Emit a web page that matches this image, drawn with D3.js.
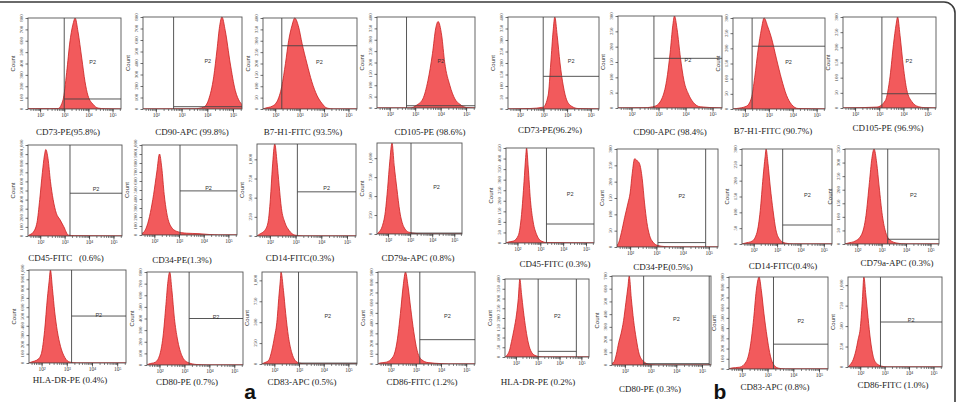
<!DOCTYPE html>
<html><head><meta charset="utf-8">
<script src="https://cdn.jsdelivr.net/npm/d3@7"></script>
<style>body{margin:0;background:#fff}svg{display:block}</style>
</head><body>
<svg id="c" width="959" height="402"></svg>
<script>
// ---------- DATA ----------
const titles = [
 "CD73-PE(95.8%)","CD90-APC (99.8%)","B7-H1-FITC (93.5%)","CD105-PE (98.6%)",
 "CD73-PE(96.2%)","CD90-APC (98.4%)","B7-H1-FITC (90.7%)","CD105-PE (96.9%)",
 "CD45-FITC   (0.6%)","CD34-PE(1.3%)","CD14-FITC(0.3%)","CD79a-APC (0.8%)",
 "CD45-FITC (0.3%)","CD34-PE(0.5%)","CD14-FITC(0.4%)","CD79a-APC (0.3%)",
 "HLA-DR-PE (0.4%)","CD80-PE (0.7%)","CD83-APC (0.5%)","CD86-FITC (1.2%)",
 "HLA-DR-PE (0.2%)","CD80-PE (0.3%)","CD83-APC (0.8%)","CD86-FITC (1.0%)"
];
const panelLetters = ["a","b"];
const xTickExps = [2,3,4,5];
const yMax  = [800,800,400,400, 400,300,300,300, 1000,1000,1200,1200, 450,300,300,350, 1000,800,1100,900, 400,700,900,1100];
const yStep = [100,100,50,50, 50,50,50,50, 100,100,250,250, 50,50,50,50, 100,100,250,100, 50,100,100,250];
const gateX  = [3.0,2.69,2.27,2.66, 2.99,2.83,2.3,3.11, 3.22,3.04,3.07,3.04, 3.27,3.06,3.24,3.25, 3.19,3.19,2.98,3.16, 3.02,2.73,3.23,2.83];
const gateXR = [null,null,null,null, null,null,null,null, null,null,null,null, null,4.88,null,null, null,null,null,null, 4.77,5.28,null,null];
const gateY  = [88,20,278,10, 142,162,207,47, 470,490,576,12, 90,13.5,60,17.5, 505,400,11,238, 29,10.5,243,550];

// histograms: [log10(intensity), count]
const hCD73a = [[1.5,2],[1.8,3],[2.4,3],[2.74,4],[2.95,80],[3.1,320],[3.24,600],[3.38,760],[3.45,800],[3.57,680],[3.73,440],[3.86,240],[3.98,120],[4.2,40],[4.4,8],[4.7,2],[5.35,0]];
const hCD90a = [[1.5,0],[3.5,2],[3.86,16],[4.05,80],[4.25,280],[4.38,520],[4.48,720],[4.57,800],[4.7,680],[4.89,400],[5.09,160],[5.26,64],[5.35,40]];
const hB7a   = [[1.5,0],[1.6,4],[1.87,12],[2.07,32],[2.27,100],[2.42,200],[2.55,300],[2.69,368],[2.8,400],[2.96,360],[3.1,288],[3.3,200],[3.5,120],[3.71,60],[3.92,24],[4.12,4],[4.4,0],[5.35,0]];
const hCD105a= [[1.5,0],[2.8,0],[3.05,12],[3.3,40],[3.5,120],[3.68,240],[3.81,352],[3.9,380],[4.04,320],[4.16,200],[4.36,100],[4.56,40],[4.76,16],[5.02,2],[5.35,0]];
const hCD73b = [[1.5,0],[2.42,2],[2.99,8],[3.2,60],[3.31,200],[3.41,340],[3.48,400],[3.58,320],[3.7,200],[3.84,100],[3.98,40],[4.19,12],[4.47,2],[5.35,0]];
const hCD90b = [[1.5,0],[2.5,1],[2.87,6],[3.12,30],[3.3,90],[3.43,180],[3.53,270],[3.59,300],[3.69,255],[3.81,165],[3.94,90],[4.11,45],[4.29,18],[4.54,4],[5.35,0]];
const hB7b   = [[1.5,0],[1.64,1.5],[2.06,9],[2.27,36],[2.41,105],[2.55,195],[2.69,264],[2.8,300],[2.96,270],[3.11,234],[3.32,165],[3.53,99],[3.74,45],[3.95,15],[4.23,1.5],[5.35,0]];
const hCD105b= [[1.5,0],[2.9,3],[3.25,24],[3.45,105],[3.59,210],[3.7,276],[3.76,300],[3.86,240],[4.0,135],[4.14,60],[4.35,21],[4.62,4.5],[4.9,1],[5.35,0]];
const hCD45a = [[1.5,0],[1.55,10],[1.71,40],[1.87,150],[1.98,400],[2.09,700],[2.17,880],[2.23,950],[2.32,850],[2.42,600],[2.53,400],[2.66,250],[2.81,180],[2.97,100],[3.15,10],[3.4,3],[5.35,0]];
const hCD34a = [[1.5,20],[1.57,30],[1.7,100],[1.84,250],[1.97,450],[2.1,700],[2.21,900],[2.3,750],[2.4,450],[2.5,250],[2.66,100],[2.91,40],[3.31,20],[3.81,15],[4.25,5],[4.6,0],[5.35,0]];
const hCD14a = [[1.5,0],[1.6,24],[1.8,72],[1.93,180],[2.02,480],[2.1,900],[2.19,1200],[2.28,960],[2.36,660],[2.45,360],[2.58,180],[2.75,72],[2.97,12],[3.3,0],[5.35,0]];
const hCD79a = [[1.5,0],[1.58,24],[1.73,96],[1.88,300],[1.98,600],[2.08,960],[2.18,1200],[2.28,900],[2.4,600],[2.53,300],[2.71,96],[2.94,24],[3.31,6],[3.6,0],[5.35,0]];
const hCD45b = [[1.5,0],[1.6,4.5],[1.82,9],[2.04,36],[2.18,135],[2.29,292],[2.36,405],[2.4,450],[2.47,360],[2.57,202],[2.69,99],[2.84,40],[3.05,9],[3.27,2],[5.35,0]];
const hCD34b = [[1.5,6],[1.54,9],[1.67,45],[1.79,90],[1.92,135],[2.0,165],[2.08,225],[2.17,270],[2.27,264],[2.36,255],[2.46,210],[2.55,135],[2.64,75],[2.74,36],[2.87,15],[3.06,4.5],[3.3,1.5],[3.6,0],[5.35,0]];
const hCD14b = [[1.5,0],[1.64,3],[1.93,9],[2.14,36],[2.28,105],[2.4,210],[2.49,276],[2.53,300],[2.61,255],[2.71,180],[2.83,105],[2.95,45],[3.14,12],[3.35,3],[3.7,0],[5.35,0]];
const hCD79b = [[1.5,0],[1.63,3.5],[1.91,10.5],[2.18,35],[2.36,105],[2.5,227],[2.6,315],[2.69,350],[2.8,297],[2.9,210],[3.03,105],[3.17,42],[3.35,14],[3.62,3.5],[4.0,0],[5.35,0]];
const hHLAa  = [[1.5,0],[1.59,10],[1.86,40],[1.99,100],[2.12,350],[2.23,700],[2.3,880],[2.35,1000],[2.43,800],[2.52,550],[2.62,350],[2.75,180],[2.92,60],[3.12,10],[3.4,0],[5.35,0]];
const hCD80a = [[1.5,0],[1.57,8],[1.83,24],[2.0,80],[2.14,240],[2.26,520],[2.34,720],[2.41,800],[2.5,640],[2.6,400],[2.72,224],[2.9,80],[3.12,24],[3.5,4],[3.9,0],[5.35,0]];
const hCD83a = [[1.5,0],[1.57,11],[1.77,44],[1.9,165],[2.01,330],[2.1,495],[2.19,825],[2.24,990],[2.27,1100],[2.37,880],[2.46,605],[2.57,330],[2.71,132],[2.84,44],[3.02,11],[3.3,0],[5.35,0]];
const hCD86a = [[1.5,0],[1.57,9],[1.83,18],[2.1,72],[2.26,225],[2.39,495],[2.5,765],[2.59,900],[2.69,765],[2.8,540],[2.92,315],[3.05,135],[3.22,45],[3.49,13.5],[3.96,4.5],[4.3,0],[5.35,0]];
const hHLAb  = [[1.5,0],[1.58,8],[1.7,32],[1.8,80],[1.91,140],[2.03,220],[2.11,300],[2.18,400],[2.26,320],[2.34,240],[2.46,140],[2.57,72],[2.72,24],[2.92,6],[3.2,0],[5.35,0]];
const hCD80b = [[1.5,14],[1.57,21],[1.67,84],[1.76,175],[1.85,245],[1.95,350],[2.04,490],[2.12,616],[2.17,700],[2.25,525],[2.34,350],[2.44,210],[2.56,84],[2.73,28],[2.92,7],[3.2,0],[5.35,0]];
const hCD83b = [[1.5,0],[1.59,9],[1.92,18],[2.17,72],[2.33,225],[2.46,495],[2.56,765],[2.67,900],[2.76,765],[2.86,540],[2.98,315],[3.08,162],[3.21,54],[3.41,9],[3.7,0],[5.35,0]];
const hCD86b = [[1.5,0],[1.57,22],[1.71,88],[1.82,198],[1.91,330],[2.01,495],[2.09,825],[2.15,1100],[2.23,880],[2.32,605],[2.42,330],[2.53,132],[2.67,44],[2.87,11],[3.1,0],[5.35,0]];
const hists = [hCD73a,hCD90a,hB7a,hCD105a, hCD73b,hCD90b,hB7b,hCD105b,
               hCD45a,hCD34a,hCD14a,hCD79a, hCD45b,hCD34b,hCD14b,hCD79b,
               hHLAa,hCD80a,hCD83a,hCD86a, hHLAb,hCD80b,hCD83b,hCD86b];

// ---------- LAYOUT ----------
const boxes = [
 [28,18,93,91],[143,17,99,92],[263,18,94,91],[377,17,98,91],
 [508,17,91,92],[618,16,104,92],[733,18,92,91],[843,17,93,91],
 [28,145,94,91],[142,145,95,90],[257,144,99,92],[377,143,85,91],
 [506,148,88,95],[617,149,101,98],[742,149,90,95],[845,149,94,95],
 [29,270,97,93],[147,272,96,93],[262,272,95,92],[378,272,97,92],
 [505,279,84,78],[612,276,99,89],[729,277,99,92],[848,277,94,90]];
const titlePos = [
 [68,135],[192,135],[303,135],[430,135],[550,133],[670,135],[773,134],[888,131],
 [66,261],[182,263],[300,261],[418,261],[555,267],[663,270],[783,269],[897,266],
 [70,383],[187,385],[302,385],[422,385],[538,385],[650,392],[775,390],[893,388]];
const letterPos = [[250,399],[720,399]];

const svg = d3.select("#c");
svg.append("rect").attr("x",-20).attr("y",2).attr("width",975).attr("height",500)
  .attr("rx",11).attr("fill","#fff").attr("stroke","#3a3a3a").attr("stroke-width",1.6);

const sup = {2:"\u00b2",3:"\u00b3",4:"\u2074",5:"\u2075"};
const minor = [];
for (let e=1;e<=5;e++) for (let m=1;m<10;m++){const v=m*Math.pow(10,e); if(v>=Math.pow(10,1.5)&&v<=Math.pow(10,5.35)) minor.push(v);}
const fmt = d3.format(",");

hists.forEach((h,i)=>{
  const [bx,by,bw,bh] = boxes[i];
  const g = svg.append("g");
  const x = d3.scaleLog().domain([Math.pow(10,1.5),Math.pow(10,5.35)]).range([bx,bx+bw]);
  const y = d3.scaleLinear().domain([0,yMax[i]]).range([by+bh,by]);
  const cid = "clip"+i;
  svg.append("clipPath").attr("id",cid).append("rect").attr("x",bx).attr("y",by-1).attr("width",bw).attr("height",bh+1);
  const area = d3.area().x(d=>x(Math.pow(10,d[0]))).y0(y(0)).y1(d=>y(Math.min(d[1],yMax[i]))).curve(d3.curveMonotoneX);
  g.append("path").datum(h).attr("d",area).attr("clip-path",`url(#${cid})`)
    .attr("fill","#f25a5c").attr("stroke","#c91f1f").attr("stroke-width",0.8);
  g.append("rect").attr("x",bx).attr("y",by).attr("width",bw).attr("height",bh)
    .attr("fill","none").attr("stroke","#555").attr("stroke-width",0.9);
  // gate
  const gx = x(Math.pow(10,gateX[i]));
  const gxr = gateXR[i]==null ? bx+bw : x(Math.pow(10,gateXR[i]));
  g.append("line").attr("x1",gx).attr("x2",gx).attr("y1",by).attr("y2",by+bh).attr("stroke","#444").attr("stroke-width",0.9);
  if (gateXR[i]!=null) g.append("line").attr("x1",gxr).attr("x2",gxr).attr("y1",by).attr("y2",by+bh).attr("stroke","#444").attr("stroke-width",0.9);
  g.append("line").attr("x1",gx).attr("x2",gxr).attr("y1",y(gateY[i])).attr("y2",y(gateY[i])).attr("stroke","#444").attr("stroke-width",0.9);
  g.append("text").attr("x",(gx+gxr)/2).attr("y",by+bh*0.5).attr("text-anchor","middle")
    .attr("font-family","Liberation Sans").attr("font-size",5.5).attr("fill","#333").text("P2");
  // x axis
  const xa = g.append("g").attr("transform",`translate(0,${by+bh})`)
    .call(d3.axisBottom(x).tickValues(minor).tickSize(2).tickFormat(""));
  xa.select(".domain").remove();
  xa.selectAll("line").attr("stroke","#333").attr("stroke-width",0.6);
  const xb = g.append("g").attr("transform",`translate(0,${by+bh})`)
    .call(d3.axisBottom(x).tickValues(xTickExps.map(e=>Math.pow(10,e))).tickSize(3.5).tickPadding(1)
      .tickFormat(v=>"10"+sup[Math.round(Math.log10(v))]));
  xb.select(".domain").remove();
  xb.selectAll("line").attr("stroke","#333").attr("stroke-width",0.8);
  xb.selectAll("text").attr("font-family","Liberation Serif").attr("font-size",5.5).attr("fill","#333");
  // y axis
  const yt = d3.range(0,yMax[i]+1,yStep[i]);
  const ya = g.append("g").attr("transform",`translate(${bx},0)`)
    .call(d3.axisLeft(y).tickValues(yt).tickSize(2.5).tickFormat(""));
  ya.select(".domain").remove();
  ya.selectAll("line").attr("stroke","#333").attr("stroke-width",0.7);
  g.selectAll(null).data(yt).enter().append("text")
    .attr("transform",d=>`translate(${bx-5},${y(d)}) rotate(-90)`)
    .attr("text-anchor","middle").attr("font-family","Liberation Serif").attr("font-size",5)
    .attr("fill","#444").text(d=>fmt(d));
  g.append("text").attr("transform",`translate(${bx-13},${by+bh/2}) rotate(-90)`)
    .attr("text-anchor","middle").attr("font-family","Liberation Sans").attr("font-size",6).attr("fill","#333").text("Count");
  // title
  g.append("text").attr("x",titlePos[i][0]).attr("y",titlePos[i][1]).attr("text-anchor","middle")
    .attr("font-family","Liberation Serif").attr("font-size",9).attr("fill","#222").style("white-space","pre")
    .text(titles[i]);
});
panelLetters.forEach((l,k)=>{
  svg.append("text").attr("x",letterPos[k][0]).attr("y",letterPos[k][1]).attr("text-anchor","middle")
    .attr("font-family","Liberation Sans").attr("font-weight","bold").attr("font-size",21).attr("fill","#111").text(l);
});
</script>
</body></html>
